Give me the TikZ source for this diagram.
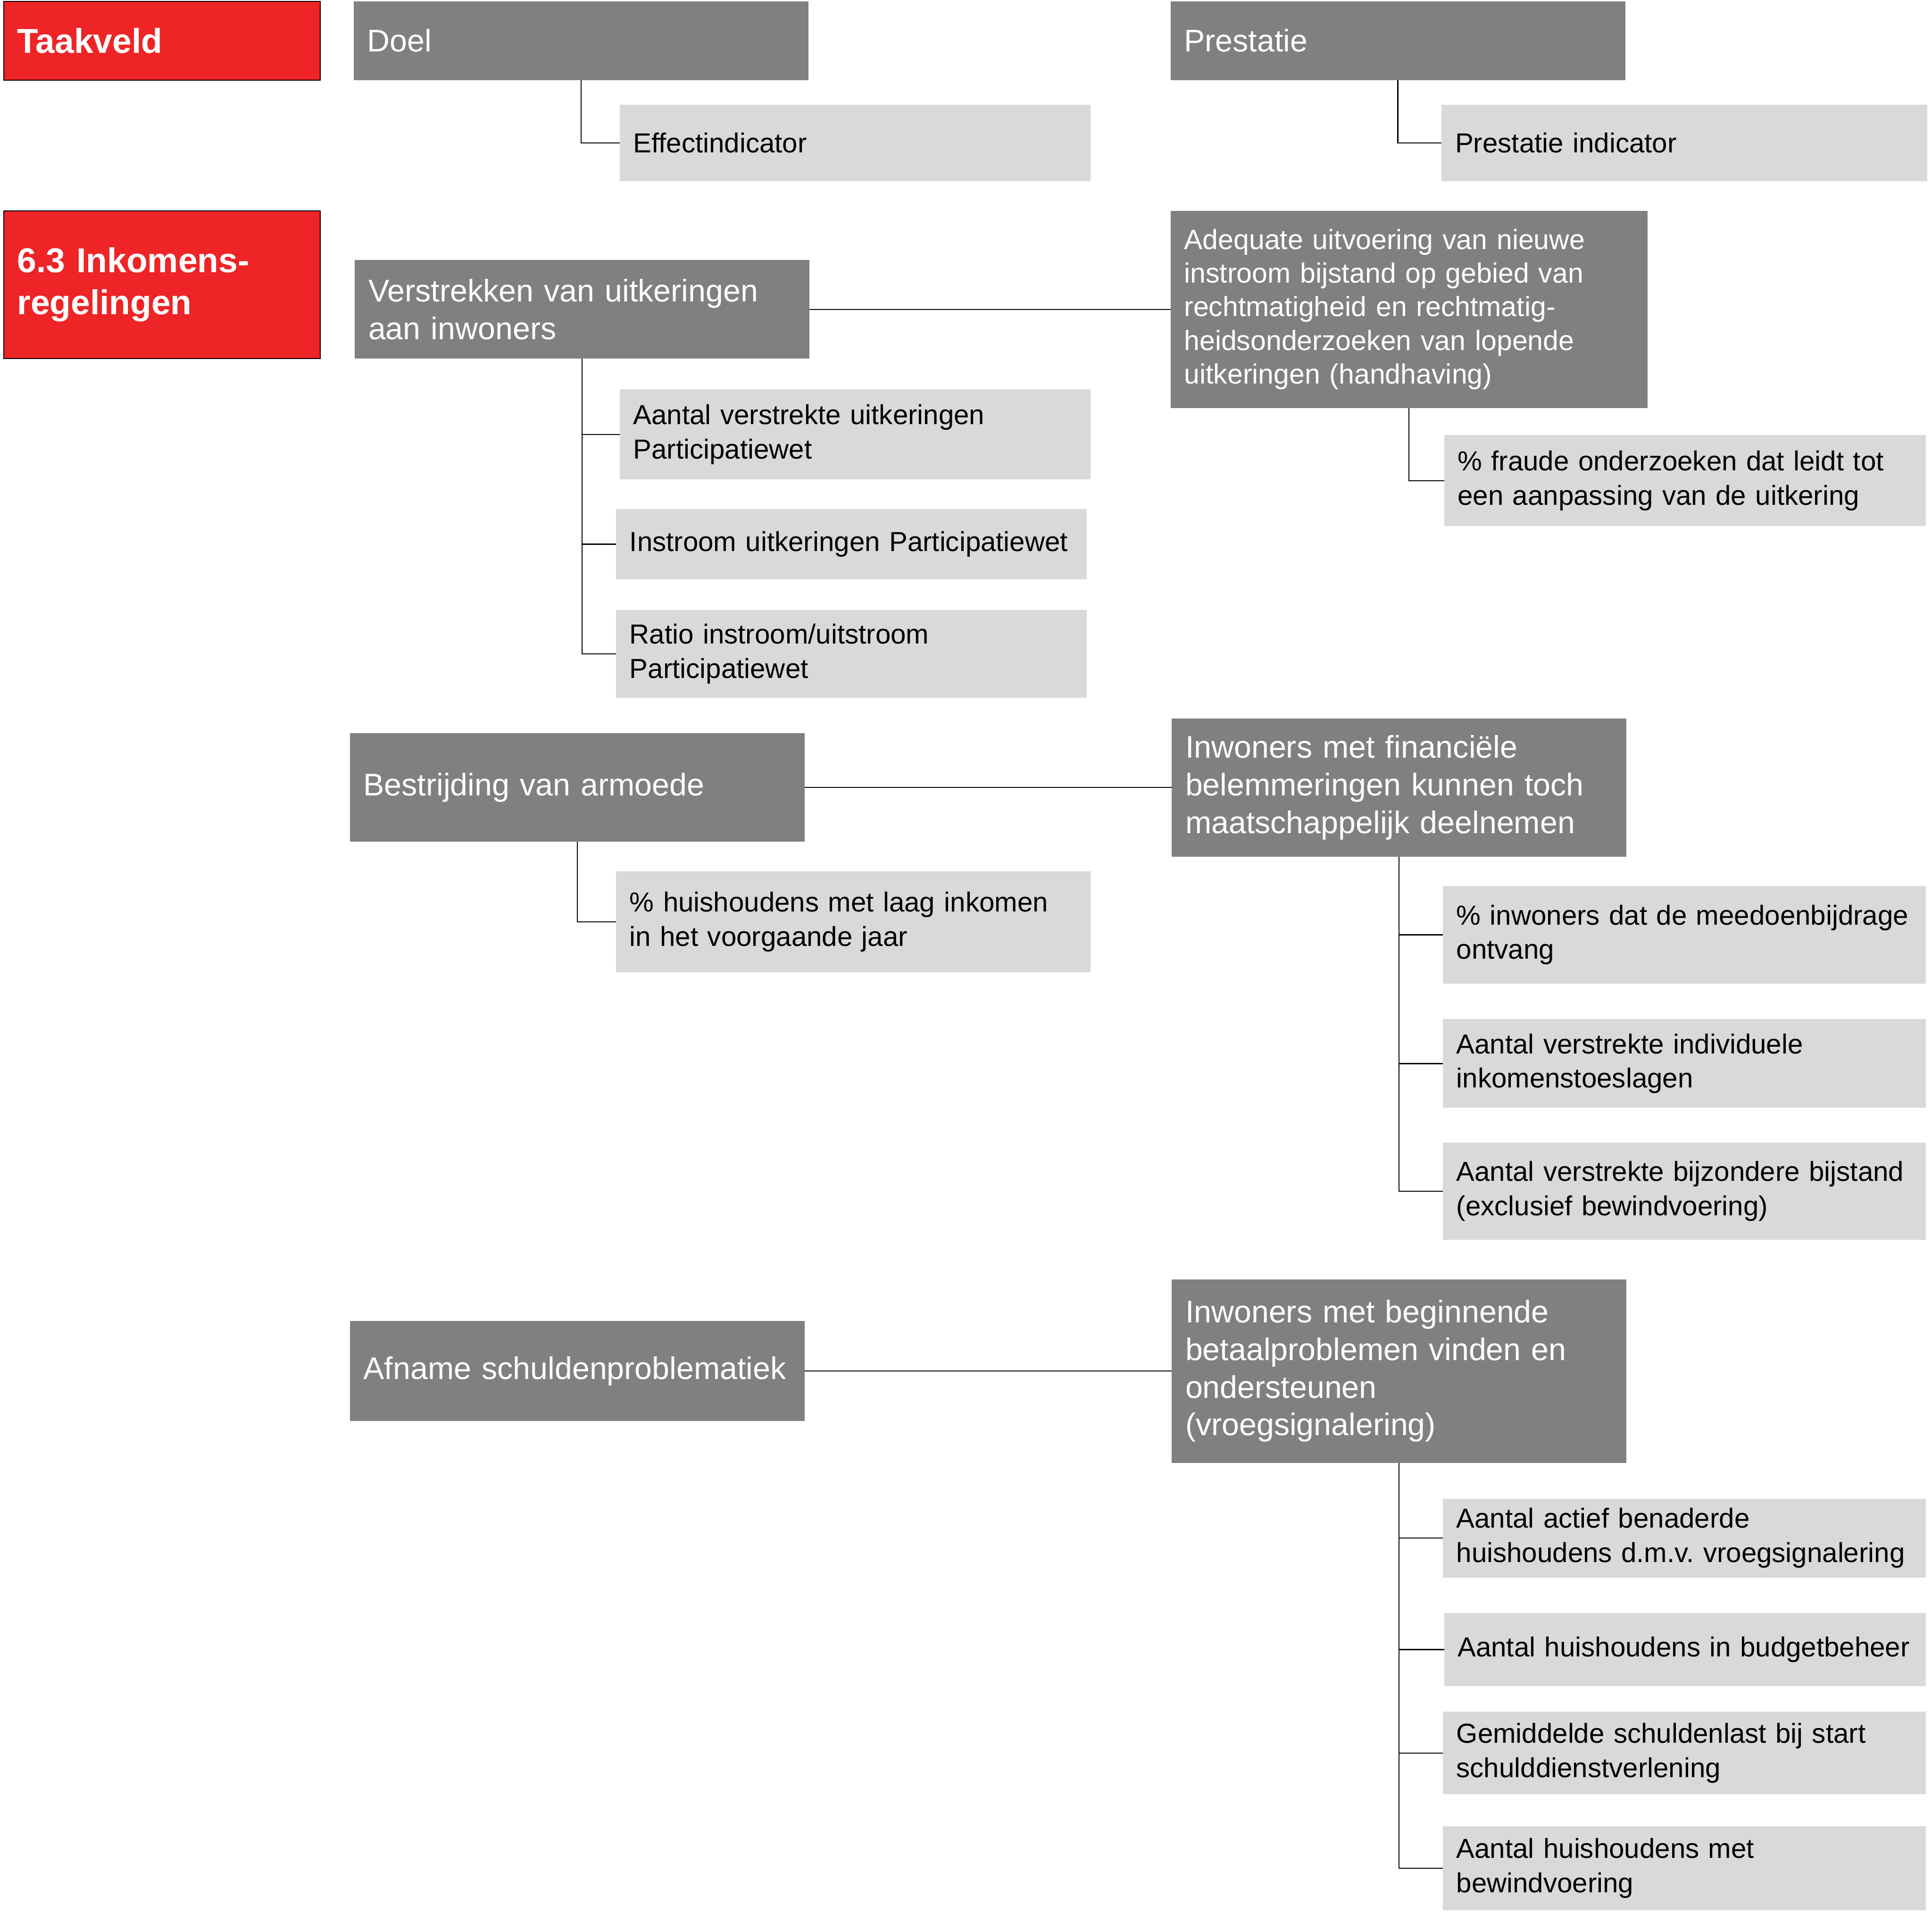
\documentclass[tikz,border=0pt]{standalone}
\usepackage{fontspec}
\setmainfont{Liberation Sans}
\usepackage{xcolor}
\usetikzlibrary{positioning}
\definecolor{TaakRed}{HTML}{EE2426}
\definecolor{DoelGray}{HTML}{808080}
\definecolor{IndGray}{HTML}{D9D9D9}
\frenchspacing
\hyphenpenalty=10000

\tikzset{
  boxsize/.code 2 args={\pgfmathsetlengthmacro\boxtw{#1-22}\tikzset{text width=\boxtw,minimum height=#2}},
  basebox/.style={anchor=north west,inner xsep=11pt,inner ysep=0pt,align=left,outer sep=0pt},
  taakbox/.style={basebox,fill=TaakRed,draw=black,line width=.8pt,text=white,font=\fontsize{28}{34}\selectfont\bfseries},
  doelbox/.style={basebox,fill=DoelGray,text=white,font=\fontsize{25.4}{30.5}\selectfont},
  indbox/.style={basebox,fill=IndGray,text=black,font=\fontsize{22.3}{27.8}\selectfont},
  link/.style={draw=black,line width=.9pt}
}

\begin{document}
\begin{tikzpicture}[x=1pt,y=-1pt]
\useasboundingbox (0,0) rectangle (1568,1553);
% kop
\node[taakbox,boxsize={257}{64}] (taak) at (3,1) {Taakveld};
\node[doelbox,boxsize={369}{64}] (doel) at (287,1) {Doel};
\node[indbox,boxsize={382}{62}] (eff) at (503,85) {Effectindicator};
\node[doelbox,boxsize={369}{64}] (prest) at (950,1) {Prestatie};
\node[indbox,boxsize={394}{62}] (prind) at (1170,85) {Prestatie indicator};
\draw[link] (doel.south) |- (eff.west);
\draw[link] (prest.south) |- (prind.west);
% taakveld 6.3
\node[taakbox,boxsize={257}{120}] (inko) at (3,171) {6.3 Inkomens-\\regelingen};
% uitkeringen
\node[doelbox,boxsize={369}{80}] (verstr) at (288,211) {Verstrekken van uitkeringen\\aan inwoners};
\node[doelbox,boxsize={387}{160},font=\fontsize{22.6}{27.3}\selectfont] (adeq) at (950,171) {Adequate uitvoering van nieuwe\\instroom bijstand op gebied van\\rechtmatigheid en rechtmatig-\\heidsonderzoeken van lopende\\uitkeringen (handhaving)};
\node[indbox,boxsize={382}{73}] (uitk) at (503,316) {Aantal verstrekte uitkeringen\\Participatiewet};
\node[indbox,boxsize={382}{57}] (instr) at (500,413) {Instroom uitkeringen Participatiewet};
\node[indbox,boxsize={382}{71}] (ratio) at (500,495) {Ratio instroom/uitstroom\\Participatiewet};
\node[indbox,boxsize={391}{74}] (fraude) at (1172,353) {\% fraude onderzoeken dat leidt tot\\een aanpassing van de uitkering};
\draw[link] (verstr.east) -- (adeq.west);
\foreach \c in {uitk,instr,ratio} \draw[link] (verstr.south) |- (\c.west);
\draw[link] (adeq.south) |- (fraude.west);
% armoede
\node[doelbox,boxsize={369}{88}] (armoede) at (284,595) {Bestrijding van armoede};
\node[doelbox,boxsize={369}{112}] (inwfin) at (951,583) {Inwoners met financi\"ele\\belemmeringen kunnen toch\\maatschappelijk deelnemen};
\node[indbox,boxsize={385}{82}] (laaginkomen) at (500,707) {\% huishoudens met laag inkomen\\in het voorgaande jaar};
\node[indbox,boxsize={392}{79}] (meedoen) at (1171,719) {\% inwoners dat de meedoenbijdrage\\ontvang};
\node[indbox,boxsize={392}{72}] (toeslag) at (1171,827) {Aantal verstrekte individuele\\inkomenstoeslagen};
\node[indbox,boxsize={392}{79}] (bijzonder) at (1171,927) {Aantal verstrekte bijzondere bijstand\\(exclusief bewindvoering)};
\draw[link] (armoede.east) -- (inwfin.west);
\draw[link] (armoede.south) |- (laaginkomen.west);
\foreach \c in {meedoen,toeslag,bijzonder} \draw[link] (inwfin.south) |- (\c.west);
% schulden
\node[doelbox,boxsize={369}{81}] (schuld) at (284,1072) {Afname schuldenproblematiek};
\node[doelbox,boxsize={369}{149}] (vroeg) at (951,1038) {Inwoners met beginnende\\betaalproblemen vinden en\\ondersteunen\\(vroegsignalering)};
\node[indbox,boxsize={392}{64}] (actief) at (1171,1216) {Aantal actief benaderde\\huishoudens d.m.v. vroegsignalering};
\node[indbox,boxsize={391}{59}] (budget) at (1172,1309) {Aantal huishoudens in budgetbeheer};
\node[indbox,boxsize={392}{67}] (gemidd) at (1171,1389) {Gemiddelde schuldenlast bij start\\schulddienstverlening};
\node[indbox,boxsize={392}{68}] (bewind) at (1171,1482) {Aantal huishoudens met\\bewindvoering};
\draw[link] (schuld.east) -- (vroeg.west);
\foreach \c in {actief,budget,gemidd,bewind} \draw[link] (vroeg.south) |- (\c.west);
\end{tikzpicture}
\end{document}
